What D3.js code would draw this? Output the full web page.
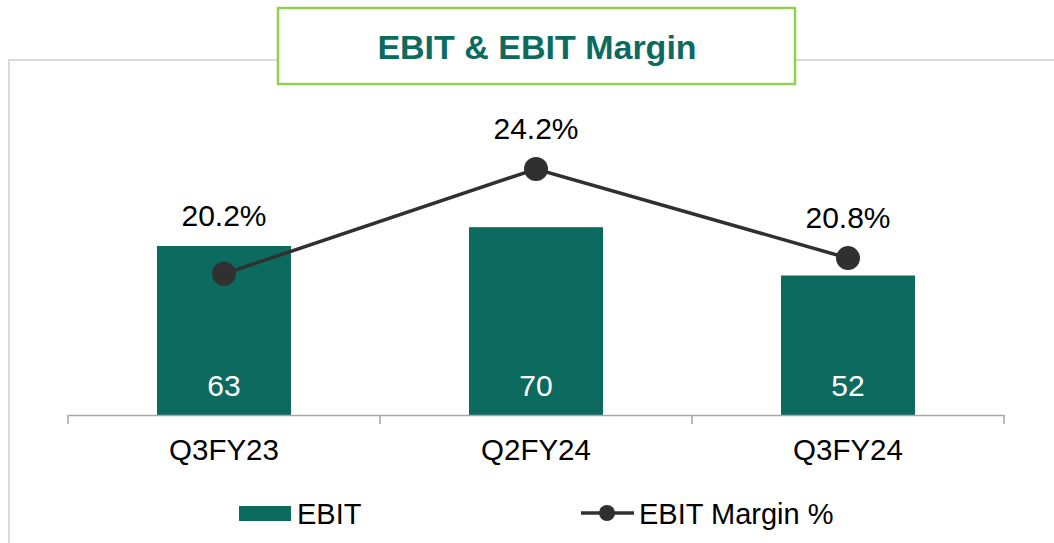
<!DOCTYPE html>
<html>
<head>
<meta charset="utf-8">
<script src="https://cdn.jsdelivr.net/npm/d3@7"></script>
<style>
  html, body { margin: 0; padding: 0; background: #fff; }
  svg { display: block; font-family: "Liberation Sans", Arial, sans-serif; }
</style>
</head>
<body>
<svg id="chart" width="1054" height="543"></svg>
<script>
const title = "EBIT & EBIT Margin";
const categories = ["Q3FY23", "Q2FY24", "Q3FY24"];
const ebit = [63, 70, 52];
const ebitMargin = [20.2, 24.2, 20.8];
const legendLabels = ["EBIT", "EBIT Margin %"];

const barColor = "#0D6A5F";
const lineColor = "#303030";

const svg = d3.select("#chart");

// outer frame
svg.append("rect")
  .attr("x", 9).attr("y", 60).attr("width", 1060).attr("height", 500)
  .attr("fill", "none").attr("stroke", "#d9d9d9").attr("stroke-width", 2);

// title box
svg.append("rect")
  .attr("x", 278).attr("y", 8).attr("width", 517).attr("height", 76)
  .attr("fill", "#fff").attr("stroke", "#92D050").attr("stroke-width", 2.5);
svg.append("text")
  .attr("x", 537).attr("y", 59)
  .attr("text-anchor", "middle")
  .attr("font-size", 34).attr("font-weight", "bold")
  .attr("fill", "#0D6A5F")
  .text(title);

const x = d3.scaleBand().domain(categories).range([68, 1004]).paddingInner(0).paddingOuter(0);
const barW = 134;
const y = d3.scaleLinear().domain([0, 80]).range([415, 415 - 80 * 2.683]);
const y2 = d3.scaleLinear().domain([15, 25]).range([410.2, 410.2 - 10 * 26.22]);

// bars
svg.selectAll("rect.bar").data(ebit).enter().append("rect")
  .attr("class", "bar")
  .attr("x", (d, i) => x(categories[i]) + x.bandwidth() / 2 - barW / 2)
  .attr("y", d => y(d))
  .attr("width", barW)
  .attr("height", d => y(0) - y(d))
  .attr("fill", barColor);

// bar value labels
svg.selectAll("text.barlbl").data(ebit).enter().append("text")
  .attr("class", "barlbl")
  .attr("x", (d, i) => x(categories[i]) + x.bandwidth() / 2)
  .attr("y", 396)
  .attr("text-anchor", "middle")
  .attr("font-size", 30)
  .attr("fill", "#fff")
  .text(d => d);

// x axis
const axis = svg.append("g").attr("transform", "translate(0,415)")
  .call(d3.axisBottom(x).tickSize(0).tickFormat(""));
axis.select(".domain").attr("stroke", "#a6a6a6").attr("stroke-width", 1.5);
const tickPos = [68].concat(categories.map(c => x(c) + x.bandwidth()));
svg.selectAll("line.tick").data(tickPos).enter().append("line")
  .attr("x1", d => d).attr("x2", d => d)
  .attr("y1", 415).attr("y2", 424)
  .attr("stroke", "#a6a6a6").attr("stroke-width", 1.5);
svg.selectAll("text.cat").data(categories).enter().append("text")
  .attr("x", d => x(d) + x.bandwidth() / 2)
  .attr("y", 460)
  .attr("text-anchor", "middle")
  .attr("font-size", 29.5)
  .attr("fill", "#000")
  .text(d => d);

// line
const line = d3.line()
  .x((d, i) => x(categories[i]) + x.bandwidth() / 2)
  .y(d => y2(d));
svg.append("path").datum(ebitMargin)
  .attr("d", line).attr("fill", "none")
  .attr("stroke", lineColor).attr("stroke-width", 3.5);
svg.selectAll("circle.pt").data(ebitMargin).enter().append("circle")
  .attr("cx", (d, i) => x(categories[i]) + x.bandwidth() / 2)
  .attr("cy", d => y2(d))
  .attr("r", 12)
  .attr("fill", lineColor);
svg.selectAll("text.pctlbl").data(ebitMargin).enter().append("text")
  .attr("x", (d, i) => x(categories[i]) + x.bandwidth() / 2)
  .attr("y", (d, i) => Math.min(y2(d) - 40, y(ebit[i]) - 30) + 10)
  .attr("text-anchor", "middle")
  .attr("font-size", 30)
  .attr("fill", "#000")
  .text(d => d.toFixed(1) + "%");

// legend
svg.append("rect").attr("x", 239).attr("y", 506).attr("width", 52).attr("height", 15).attr("fill", barColor);
svg.append("text").attr("x", 297).attr("y", 524).attr("font-size", 29).attr("fill", "#000").text(legendLabels[0]);
svg.append("line").attr("x1", 581).attr("x2", 634).attr("y1", 513).attr("y2", 513)
  .attr("stroke", lineColor).attr("stroke-width", 3.5);
svg.append("circle").attr("cx", 607).attr("cy", 513).attr("r", 8).attr("fill", lineColor);
svg.append("text").attr("x", 639).attr("y", 524).attr("font-size", 29).attr("fill", "#000").text(legendLabels[1]);
</script>
</body>
</html>
